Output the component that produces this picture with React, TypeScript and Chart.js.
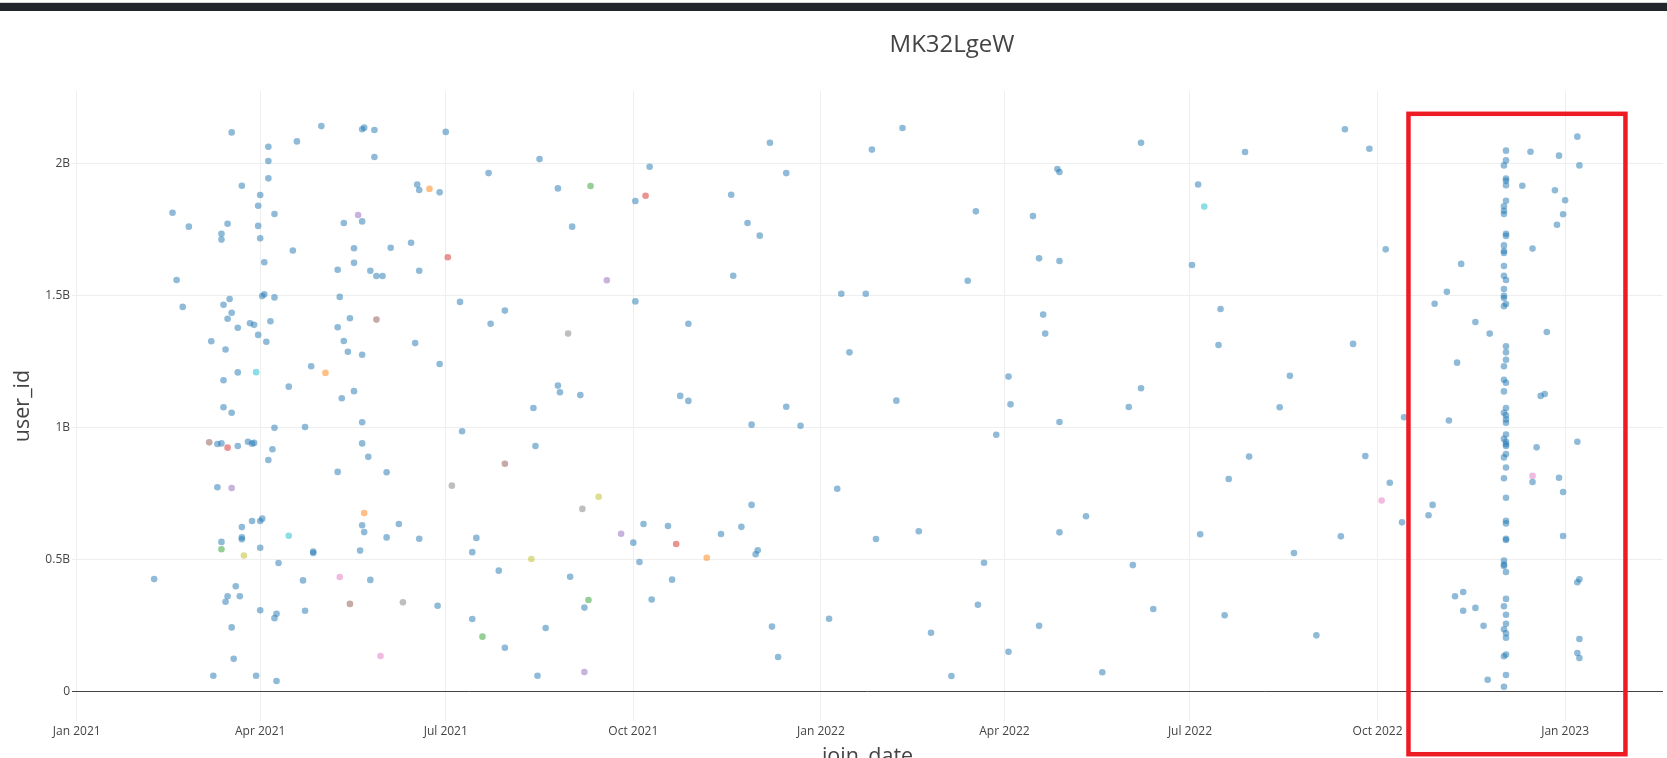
import React, { useEffect, useRef } from "react";
import { Chart, registerables } from "chart.js";

Chart.register(...registerables);

// ---------- text ----------
const chartTitle = "MK32LgeW";
const xAxisTitle = "join_date";
const yAxisTitle = "user_id";

// ---------- axes ----------
const xTickDates = [
  "2021-01-01", "2021-04-01", "2021-07-01", "2021-10-01",
  "2022-01-01", "2022-04-01", "2022-07-01", "2022-10-01", "2023-01-01",
];
const xTickLabels = [
  "Jan 2021", "Apr 2021", "Jul 2021", "Oct 2021",
  "Jan 2022", "Apr 2022", "Jul 2022", "Oct 2022", "Jan 2023",
];
const xRange = ["2020-12-29T16:40:00Z", "2023-02-18T00:00:00Z"];
const yTickValues = [0, 0.5e9, 1e9, 1.5e9, 2e9];
const yTickLabels = ["0", "0.5B", "1B", "1.5B", "2B"];
const yRange = [-0.1125e9, 2.2739e9];

// highlighted region (red box), in data units
const highlightX = ["2022-10-16T04:00:00Z", "2023-01-30T14:00:00Z"];
const highlightY = [-0.2383e9, 2.1875e9];

// ---------- data: [join_date, user_id] ----------
const bluePoints: [string, number][] = [
  ["2021-03-18", 2.117e9], ["2021-05-01", 2.141e9], ["2021-05-21", 2.129e9], ["2021-05-22", 2.135e9],
  ["2021-05-27", 2.126e9], ["2021-04-19", 2.083e9], ["2021-04-05", 2.063e9], ["2021-04-05", 2.009e9],
  ["2021-05-27", 2.024e9], ["2021-04-05", 1.943e9], ["2021-03-23", 1.915e9], ["2021-06-17", 1.92e9],
  ["2021-06-18", 1.899e9], ["2021-04-01", 1.88e9], ["2021-03-31", 1.839e9], ["2021-02-17", 1.813e9],
  ["2021-04-08", 1.808e9], ["2021-05-12", 1.774e9], ["2021-05-21", 1.78e9], ["2021-02-25", 1.76e9],
  ["2021-03-16", 1.771e9], ["2021-03-31", 1.763e9], ["2021-03-13", 1.733e9], ["2021-03-13", 1.711e9],
  ["2021-04-01", 1.716e9], ["2021-06-14", 1.699e9], ["2021-05-17", 1.678e9], ["2021-06-04", 1.68e9],
  ["2021-04-17", 1.67e9], ["2021-04-03", 1.625e9], ["2021-05-17", 1.623e9], ["2021-05-09", 1.597e9],
  ["2021-05-25", 1.593e9], ["2021-05-28", 1.573e9], ["2021-05-31", 1.573e9], ["2021-06-18", 1.593e9],
  ["2021-02-19", 1.558e9], ["2021-04-02", 1.497e9], ["2021-04-03", 1.504e9], ["2021-04-08", 1.492e9],
  ["2021-05-10", 1.494e9], ["2021-02-22", 1.456e9], ["2021-03-14", 1.464e9], ["2021-03-17", 1.486e9],
  ["2021-03-18", 1.434e9], ["2021-03-16", 1.411e9], ["2021-03-21", 1.377e9], ["2021-03-27", 1.394e9],
  ["2021-03-29", 1.388e9], ["2021-04-06", 1.402e9], ["2021-05-15", 1.413e9], ["2021-05-09", 1.379e9],
  ["2021-03-31", 1.35e9], ["2021-03-08", 1.326e9], ["2021-04-04", 1.324e9], ["2021-05-12", 1.327e9],
  ["2021-06-16", 1.319e9], ["2021-03-15", 1.295e9], ["2021-05-14", 1.286e9], ["2021-05-21", 1.275e9],
  ["2021-04-26", 1.231e9], ["2021-03-21", 1.208e9], ["2021-03-14", 1.178e9], ["2021-04-15", 1.154e9],
  ["2021-05-17", 1.137e9], ["2021-05-11", 1.11e9], ["2021-03-14", 1.076e9], ["2021-03-18", 1.055e9],
  ["2021-04-08", 0.998e9], ["2021-04-23", 1.001e9], ["2021-05-21", 1.019e9], ["2021-03-11", 0.937e9],
  ["2021-03-13", 0.939e9], ["2021-03-21", 0.929e9], ["2021-03-26", 0.945e9], ["2021-03-28", 0.938e9],
  ["2021-03-29", 0.941e9], ["2021-04-07", 0.917e9], ["2021-04-05", 0.876e9], ["2021-05-21", 0.939e9],
  ["2021-05-24", 0.888e9], ["2021-05-09", 0.831e9], ["2021-06-02", 0.83e9], ["2021-03-11", 0.773e9],
  ["2021-03-28", 0.645e9], ["2021-04-01", 0.645e9], ["2021-04-02", 0.654e9], ["2021-03-23", 0.622e9],
  ["2021-05-21", 0.629e9], ["2021-06-08", 0.634e9], ["2021-06-18", 0.578e9], ["2021-03-23", 0.583e9],
  ["2021-03-23", 0.576e9], ["2021-05-22", 0.603e9], ["2021-06-02", 0.583e9], ["2021-03-13", 0.566e9],
  ["2021-04-01", 0.544e9], ["2021-04-27", 0.529e9], ["2021-04-27", 0.524e9], ["2021-05-20", 0.533e9],
  ["2021-04-10", 0.486e9], ["2021-02-08", 0.425e9], ["2021-04-22", 0.42e9], ["2021-05-25", 0.422e9],
  ["2021-03-20", 0.398e9], ["2021-03-16", 0.36e9], ["2021-03-15", 0.339e9], ["2021-03-22", 0.36e9],
  ["2021-04-01", 0.307e9], ["2021-04-09", 0.294e9], ["2021-04-08", 0.277e9], ["2021-04-23", 0.305e9],
  ["2021-03-18", 0.242e9], ["2021-03-19", 0.123e9], ["2021-03-09", 0.059e9], ["2021-03-30", 0.059e9],
  ["2021-04-09", 0.039e9],
  ["2021-07-01", 2.119e9], ["2021-08-16", 2.016e9], ["2021-12-07", 2.078e9], ["2021-07-22", 1.963e9],
  ["2021-10-09", 1.987e9], ["2021-12-15", 1.963e9], ["2021-06-28", 1.89e9], ["2021-08-25", 1.905e9],
  ["2021-10-02", 1.857e9], ["2021-11-18", 1.881e9], ["2021-09-01", 1.76e9], ["2021-11-26", 1.774e9],
  ["2021-12-02", 1.726e9], ["2021-11-19", 1.574e9], ["2021-07-08", 1.475e9], ["2021-07-30", 1.442e9],
  ["2021-10-02", 1.477e9], ["2021-07-23", 1.392e9], ["2021-10-28", 1.392e9], ["2021-06-28", 1.24e9],
  ["2021-08-25", 1.158e9], ["2021-08-26", 1.133e9], ["2021-09-05", 1.122e9], ["2021-08-13", 1.073e9],
  ["2021-10-24", 1.119e9], ["2021-10-28", 1.1e9], ["2021-12-15", 1.078e9], ["2021-07-09", 0.985e9],
  ["2021-11-28", 1.01e9], ["2021-12-22", 1.006e9], ["2021-08-14", 0.929e9], ["2021-11-28", 0.706e9],
  ["2021-07-16", 0.581e9], ["2021-07-14", 0.527e9], ["2021-10-06", 0.634e9], ["2021-10-18", 0.626e9],
  ["2021-11-23", 0.623e9], ["2021-11-13", 0.596e9], ["2021-10-01", 0.563e9], ["2021-12-01", 0.534e9],
  ["2021-11-30", 0.519e9], ["2021-10-04", 0.49e9], ["2021-07-27", 0.457e9], ["2021-08-31", 0.434e9],
  ["2021-10-20", 0.423e9], ["2021-10-10", 0.348e9], ["2021-06-27", 0.324e9], ["2021-09-07", 0.317e9],
  ["2021-07-14", 0.274e9], ["2021-08-19", 0.24e9], ["2021-07-30", 0.165e9], ["2021-12-08", 0.245e9],
  ["2021-12-11", 0.13e9], ["2021-08-15", 0.059e9],
  ["2022-02-10", 2.134e9], ["2022-01-26", 2.052e9], ["2022-06-07", 2.078e9], ["2022-04-27", 1.978e9],
  ["2022-04-28", 1.967e9], ["2022-07-05", 1.92e9], ["2022-03-18", 1.818e9], ["2022-04-15", 1.8e9],
  ["2022-04-18", 1.64e9], ["2022-04-28", 1.63e9], ["2022-07-02", 1.615e9], ["2022-03-14", 1.555e9],
  ["2022-01-11", 1.506e9], ["2022-01-23", 1.506e9], ["2022-07-16", 1.448e9], ["2022-04-20", 1.427e9],
  ["2022-04-21", 1.355e9], ["2022-01-15", 1.284e9], ["2022-07-15", 1.312e9], ["2022-04-03", 1.192e9],
  ["2022-02-07", 1.101e9], ["2022-04-04", 1.087e9], ["2022-06-01", 1.077e9], ["2022-06-07", 1.148e9],
  ["2022-04-28", 1.02e9], ["2022-03-28", 0.972e9], ["2022-01-09", 0.767e9], ["2022-07-20", 0.804e9],
  ["2022-01-28", 0.577e9], ["2022-02-18", 0.606e9], ["2022-04-28", 0.602e9], ["2022-05-11", 0.663e9],
  ["2022-07-06", 0.595e9], ["2022-03-22", 0.487e9], ["2022-06-03", 0.478e9], ["2022-03-19", 0.328e9],
  ["2022-01-05", 0.275e9], ["2022-02-24", 0.222e9], ["2022-04-18", 0.248e9], ["2022-06-13", 0.312e9],
  ["2022-07-18", 0.288e9], ["2022-04-03", 0.15e9], ["2022-03-06", 0.058e9], ["2022-05-19", 0.072e9],
  ["2022-09-15", 2.129e9], ["2022-09-27", 2.055e9], ["2022-07-28", 2.043e9], ["2023-01-07", 2.101e9],
  ["2022-12-15", 2.044e9], ["2022-12-29", 2.029e9], ["2023-01-08", 1.992e9], ["2022-12-11", 1.915e9],
  ["2022-12-27", 1.898e9], ["2023-01-01", 1.86e9], ["2022-12-31", 1.807e9], ["2022-12-28", 1.767e9],
  ["2022-10-05", 1.674e9], ["2022-12-16", 1.677e9], ["2022-11-11", 1.619e9], ["2022-11-04", 1.513e9],
  ["2022-10-29", 1.468e9], ["2022-11-18", 1.399e9], ["2022-11-25", 1.355e9], ["2022-12-23", 1.361e9],
  ["2022-09-19", 1.316e9], ["2022-11-09", 1.245e9], ["2022-08-19", 1.195e9], ["2022-12-20", 1.119e9],
  ["2022-12-22", 1.126e9], ["2022-08-14", 1.076e9], ["2022-10-14", 1.038e9], ["2022-11-05", 1.026e9],
  ["2022-07-30", 0.889e9], ["2022-09-25", 0.891e9], ["2022-10-07", 0.79e9], ["2022-10-28", 0.706e9],
  ["2022-10-26", 0.667e9], ["2022-10-13", 0.64e9], ["2022-09-13", 0.587e9], ["2022-08-21", 0.524e9],
  ["2023-01-07", 0.945e9], ["2022-12-18", 0.924e9], ["2022-12-16", 0.793e9], ["2022-12-29", 0.809e9],
  ["2022-12-31", 0.755e9], ["2022-12-31", 0.588e9], ["2023-01-08", 0.424e9], ["2023-01-07", 0.413e9],
  ["2022-11-08", 0.36e9], ["2022-11-12", 0.376e9], ["2022-11-12", 0.305e9], ["2022-11-18", 0.316e9],
  ["2022-11-22", 0.248e9], ["2022-09-01", 0.212e9], ["2023-01-08", 0.198e9], ["2023-01-07", 0.145e9],
  ["2023-01-08", 0.126e9], ["2022-11-24", 0.044e9],
];

// the dense burst of sign-ups at the start of December 2022
const burstDay1 = "2022-12-02";
const burstDay1Ids = [
  1.992e9, 1.837e9, 1.82e9, 1.808e9, 1.689e9, 1.668e9, 1.66e9, 1.611e9, 1.574e9, 1.524e9,
  1.498e9, 1.49e9, 1.459e9, 1.231e9, 1.18e9, 1.136e9, 1.055e9, 0.956e9, 0.886e9, 0.807e9,
  0.495e9, 0.48e9, 0.475e9, 0.322e9, 0.235e9, 0.133e9, 0.017e9,
];
const burstDay2 = "2022-12-03";
const burstDay2Ids = [
  2.048e9, 2.011e9, 1.942e9, 1.934e9, 1.917e9, 1.858e9, 1.733e9, 1.725e9, 1.558e9, 1.467e9,
  1.307e9, 1.284e9, 1.256e9, 1.169e9, 1.073e9, 1.045e9, 1.03e9, 1.017e9, 0.973e9, 0.945e9,
  0.936e9, 0.929e9, 0.899e9, 0.848e9, 0.733e9, 0.646e9, 0.636e9, 0.578e9, 0.573e9, 0.452e9,
  0.35e9, 0.29e9, 0.256e9, 0.22e9, 0.203e9, 0.139e9, 0.062e9,
];

const purplePoints: [string, number][] = [
  ["2021-05-19", 1.804e9], ["2021-03-18", 0.77e9], ["2021-09-18", 1.557e9], ["2021-09-25", 0.597e9], ["2021-09-07", 0.073e9],
];
const cyanPoints: [string, number][] = [
  ["2021-03-30", 1.209e9], ["2021-04-15", 0.589e9], ["2022-07-08", 1.836e9],
];
const orangePoints: [string, number][] = [
  ["2021-05-03", 1.206e9], ["2021-05-22", 0.675e9], ["2021-06-23", 1.903e9], ["2021-11-06", 0.506e9],
];
const brownPoints: [string, number][] = [
  ["2021-05-28", 1.408e9], ["2021-03-07", 0.943e9], ["2021-05-15", 0.331e9], ["2021-07-30", 0.862e9],
];
const redPoints: [string, number][] = [
  ["2021-03-16", 0.923e9], ["2021-07-02", 1.644e9], ["2021-10-07", 1.877e9], ["2021-10-22", 0.558e9],
];
const greenPoints: [string, number][] = [
  ["2021-03-13", 0.538e9], ["2021-09-10", 1.914e9], ["2021-09-09", 0.346e9], ["2021-07-19", 0.207e9],
];
const olivePoints: [string, number][] = [
  ["2021-03-24", 0.514e9], ["2021-09-14", 0.737e9], ["2021-08-12", 0.501e9],
];
const pinkPoints: [string, number][] = [
  ["2021-05-10", 0.433e9], ["2021-05-30", 0.134e9], ["2022-10-03", 0.723e9], ["2022-12-16", 0.816e9],
];
const grayPoints: [string, number][] = [
  ["2021-06-10", 0.337e9], ["2021-08-30", 1.355e9], ["2021-07-04", 0.779e9], ["2021-09-06", 0.691e9],
];

// ---------- helpers ----------
const toMs = (s: string) => Date.parse(s.length === 10 ? s + "T00:00:00Z" : s);
const FONT = '"Open Sans", verdana, arial, sans-serif';

function toXY(points: [string, number][]) {
  return points.map(([d, v]) => ({ x: toMs(d), y: v }));
}

export default function App() {
  const canvasRef = useRef<HTMLCanvasElement | null>(null);

  useEffect(() => {
    const canvas = canvasRef.current;
    if (!canvas) return;

    const blueData = [
      ...toXY(bluePoints),
      ...burstDay1Ids.map((v) => ({ x: toMs(burstDay1), y: v })),
      ...burstDay2Ids.map((v) => ({ x: toMs(burstDay2), y: v })),
    ];

    const mk = (label: string, data: { x: number; y: number }[], color: string) => ({
      label,
      data,
      backgroundColor: color,
      borderWidth: 0,
      pointRadius: 3.3,
      pointHoverRadius: 3.3,
    });

    const overlay = {
      id: "overlay",
      afterDraw(chart: any) {
        const ctx = chart.ctx;
        const xs = chart.scales.x;
        const ys = chart.scales.y;
        const area = chart.chartArea;
        ctx.save();
        ctx.fillStyle = "#444";
        // title
        ctx.font = `24px ${FONT}`;
        ctx.textAlign = "center";
        ctx.textBaseline = "alphabetic";
        ctx.fillText(chartTitle, 952, 51.5);
        // x title
        ctx.font = `21.5px ${FONT}`;
        ctx.fillText(xAxisTitle, (area.left + area.right) / 2, 763);
        // y title
        ctx.save();
        ctx.translate(28.5, (area.top + area.bottom) / 2);
        ctx.rotate(-Math.PI / 2);
        ctx.fillText(yAxisTitle, 0, 0);
        ctx.restore();
        // highlight box
        const l = xs.getPixelForValue(toMs(highlightX[0]));
        const r = xs.getPixelForValue(toMs(highlightX[1]));
        const t = ys.getPixelForValue(highlightY[1]);
        const b = ys.getPixelForValue(highlightY[0]);
        ctx.strokeStyle = "rgb(237,28,36)";
        ctx.lineWidth = 4.5;
        ctx.strokeRect(l, t, r - l, b - t);
        ctx.restore();
      },
    };

    const chart = new Chart(canvas, {
      type: "scatter",
      data: {
        datasets: [
          mk("blue", blueData, "rgba(31,119,180,0.5)"),
          mk("orange", toXY(orangePoints), "rgba(255,127,14,0.5)"),
          mk("green", toXY(greenPoints), "rgba(44,160,44,0.5)"),
          mk("red", toXY(redPoints), "rgba(214,39,40,0.5)"),
          mk("purple", toXY(purplePoints), "rgba(148,103,189,0.5)"),
          mk("brown", toXY(brownPoints), "rgba(140,86,75,0.5)"),
          mk("pink", toXY(pinkPoints), "rgba(227,119,194,0.5)"),
          mk("gray", toXY(grayPoints), "rgba(127,127,127,0.5)"),
          mk("olive", toXY(olivePoints), "rgba(188,189,34,0.5)"),
          mk("cyan", toXY(cyanPoints), "rgba(23,190,207,0.5)"),
        ],
      },
      options: {
        responsive: false,
        animation: false,
        devicePixelRatio: 1,
        layout: { padding: { left: 0, right: 4, top: 91, bottom: 0 } },
        plugins: {
          legend: { display: false },
          tooltip: { enabled: false },
          title: { display: false },
        },
        scales: {
          x: {
            type: "linear",
            min: toMs(xRange[0]),
            max: toMs(xRange[1]),
            bounds: "data",
            border: { display: false },
            grid: { color: "#eeeeee", lineWidth: 1, drawTicks: false },
            ticks: {
              autoSkip: false,
              maxRotation: 0,
              minRotation: 0,
              padding: 3,
              color: "#444",
              font: { family: FONT, size: 12 },
              callback: (value: any) => {
                const i = xTickDates.findIndex((d) => toMs(d) === value);
                return i >= 0 ? xTickLabels[i] : "";
              },
            },
            afterBuildTicks: (scale: any) => {
              scale.ticks = xTickDates.map((d) => ({ value: toMs(d) }));
            },
            afterFit: (scale: any) => {
              scale.height = 37;
              scale.paddingLeft = 0;
              scale.paddingRight = 0;
            },
          },
          y: {
            type: "linear",
            min: yRange[0],
            max: yRange[1],
            bounds: "data",
            border: { display: false },
            grid: {
              color: (c: any) => (c.tick && c.tick.value === 0 ? "#444" : "#eeeeee"),
              lineWidth: 1,
              drawTicks: false,
            },
            ticks: {
              padding: 2,
              color: "#444",
              font: { family: FONT, size: 12 },
              callback: (value: any) => {
                const i = yTickValues.indexOf(value);
                return i >= 0 ? yTickLabels[i] : "";
              },
            },
            afterBuildTicks: (scale: any) => {
              scale.ticks = yTickValues.map((v) => ({ value: v }));
            },
            afterFit: (scale: any) => {
              scale.width = 72;
            },
          },
        },
      },
      plugins: [overlay],
    } as any);

    return () => chart.destroy();
  }, []);

  return (
    <div
      style={{
        position: "fixed",
        left: 0,
        top: 0,
        width: 1667,
        height: 758,
        overflow: "hidden",
        background: "#fff",
      }}
    >
      <canvas
        ref={canvasRef}
        width={1667}
        height={758}
        style={{ position: "absolute", left: 0, top: 0, width: 1667, height: 758 }}
      />
      <div style={{ position: "absolute", left: 0, top: 2, width: 1667, height: 1, background: "#d4d4d4" }} />
      <div style={{ position: "absolute", left: 0, top: 3, width: 1667, height: 8, background: "#21262d" }} />
    </div>
  );
}
